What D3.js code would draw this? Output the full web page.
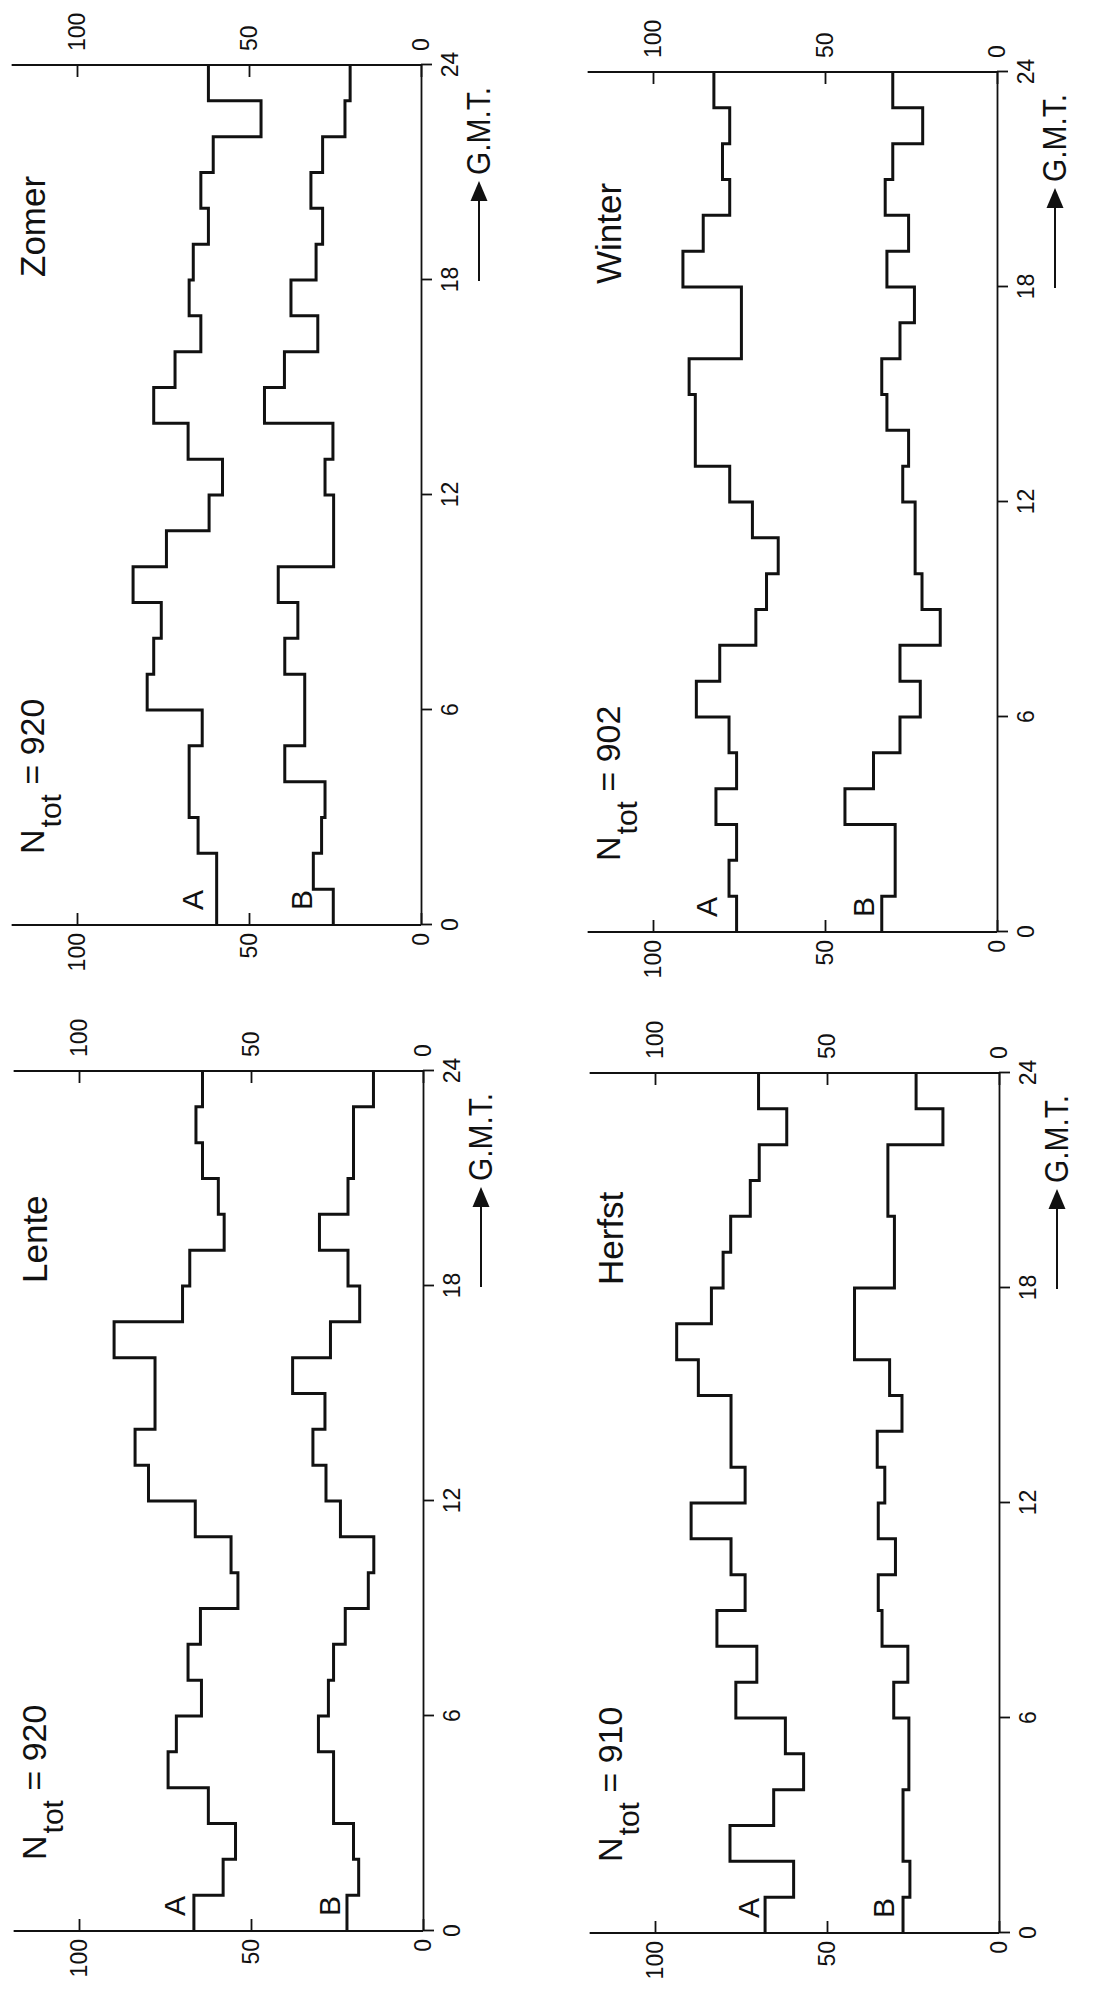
<!DOCTYPE html>
<html>
<head>
<meta charset="utf-8">
<script src="https://cdn.jsdelivr.net/npm/d3@7"></script>
<style>
  body { margin: 0; background: #fff; }
  svg text { font-family: "Liberation Sans", Arial, sans-serif; fill: #111; }
</style>
</head>
<body>
<div id="chart"></div>
<script>
// Data
const seasons = ["Zomer", "Winter", "Lente", "Herfst"];
const nTot = [920, 902, 920, 910];
const hourTicks = [0, 6, 12, 18, 24];
const valueTicks = [0, 50, 100];

// hourly values, hour 0-1 first
const zomerA = [59.4, 59.4, 64.8, 67.4, 67.4, 63.6, 79.6, 77.7, 75.5, 83.7, 74.0, 61.6, 57.7, 67.7, 77.7, 71.5, 64.0, 67.4, 66.2, 61.8, 64.0, 60.4, 46.5, 61.8];
const zomerB = [25.5, 31.3, 28.9, 27.9, 39.6, 33.8, 33.8, 39.6, 35.8, 41.5, 25.4, 25.4, 27.9, 25.6, 45.5, 39.7, 30.0, 37.8, 30.5, 28.6, 32.0, 28.6, 22.1, 20.6];
const winterA = [75.7, 77.9, 75.7, 81.7, 75.7, 77.9, 87.4, 80.6, 70.1, 67.0, 63.6, 71.1, 77.7, 87.7, 87.7, 89.5, 74.3, 74.3, 91.3, 85.4, 77.7, 79.8, 77.7, 82.3];
const winterB = [33.5, 29.6, 29.6, 44.2, 35.9, 28.2, 22.3, 28.2, 16.5, 21.8, 23.8, 23.8, 27.4, 25.7, 32.0, 33.5, 28.2, 24.0, 32.0, 25.7, 32.5, 30.3, 21.6, 30.3];
const lenteA = [66.6, 58.1, 54.5, 62.4, 74.1, 71.7, 64.4, 68.3, 64.7, 53.8, 55.8, 66.2, 79.8, 83.7, 77.9, 77.9, 89.8, 69.9, 67.8, 57.8, 59.5, 64.1, 66.0, 64.1];
const lenteB = [22.1, 18.7, 20.2, 26.0, 26.0, 30.4, 27.5, 26.0, 22.6, 15.9, 14.3, 24.0, 28.2, 32.0, 28.5, 37.9, 26.9, 18.4, 21.8, 30.1, 21.8, 20.2, 20.2, 14.4];
const herfstA = [68.0, 59.7, 78.2, 65.5, 56.8, 62.1, 76.5, 70.4, 82.0, 73.8, 77.9, 89.5, 73.8, 77.9, 77.9, 87.4, 93.7, 83.6, 80.2, 78.0, 72.3, 69.7, 61.7, 69.9];
const herfstB = [27.9, 25.9, 27.9, 27.9, 26.2, 26.2, 30.6, 26.5, 34.0, 35.1, 30.1, 35.1, 33.2, 35.4, 28.2, 31.8, 42.0, 42.0, 30.4, 30.4, 32.3, 32.3, 16.3, 24.1];

const seriesA = [zomerA, winterA, lenteA, herfstA];
const seriesB = [zomerB, winterB, lenteB, herfstB];

// Dimensions
const dimensions = {
  width: 1099,
  height: 1989,
  ctrWidth: 860,  // hour axis (drawn vertically after rotation)
  ctrHeight: 344, // value axis
};

// screen point of (hour 0, value 100) for each panel, plus where A / B sit
const panels = [
  { x: 77, y: 925, labelA: 63.4, labelB: 31.7 },
  { x: 653, y: 932, labelA: 81.4, labelB: 35.8 },
  { x: 79, y: 1931, labelA: 69.2, labelB: 24.1 },
  { x: 655, y: 1933, labelA: 69.8, labelB: 30.5 },
];

const svg = d3
  .select("#chart")
  .append("svg")
  .attr("width", dimensions.width)
  .attr("height", dimensions.height);

svg
  .append("rect")
  .attr("width", dimensions.width)
  .attr("height", dimensions.height)
  .attr("fill", "#fff");

// Scales
const xScale = d3.scaleLinear().domain([0, 24]).range([0, dimensions.ctrWidth]);
const yScale = d3.scaleLinear().domain([0, 100]).range([dimensions.ctrHeight, 0]);

const lineGenerator = d3
  .line()
  .x((d, i) => xScale(i))
  .y((d) => yScale(d))
  .curve(d3.curveStepAfter);

const ink = "#111";

function styleAxis(g) {
  g.attr("font-size", 23).attr("font-family", null);
  g.selectAll("line, path").attr("stroke", ink).attr("stroke-width", 1.8);
  g.selectAll("text").attr("fill", ink);
}

panels.forEach((p, k) => {
  // everything is drawn as a normal chart, then turned a quarter left
  const ctr = svg
    .append("g")
    .attr("transform", `translate(${p.x}, ${p.y}) rotate(-90)`);

  // value axes at hour 0 and hour 24
  ctr
    .append("g")
    .call(
      d3.axisLeft(yScale).tickValues(valueTicks)
        .tickSizeInner(-12).tickSizeOuter(0).tickPadding(8)
    )
    .call((g) => g.select(".domain").remove())
    .call(styleAxis);

  ctr
    .append("g")
    .attr("transform", `translate(${dimensions.ctrWidth}, 0)`)
    .call(
      d3.axisRight(yScale).tickValues(valueTicks)
        .tickSizeInner(-12).tickSizeOuter(0).tickPadding(14)
    )
    .call((g) => g.select(".domain").remove())
    .call(styleAxis);

  [0, dimensions.ctrWidth].forEach((x) => {
    ctr
      .append("line")
      .attr("x1", x)
      .attr("x2", x)
      .attr("y1", yScale(119))
      .attr("y2", yScale(0))
      .attr("stroke", ink)
      .attr("stroke-width", 1.8);
  });

  // hour axis
  ctr
    .append("g")
    .attr("transform", `translate(0, ${dimensions.ctrHeight})`)
    .call(
      d3.axisBottom(xScale).tickValues(hourTicks)
        .tickSize(11).tickSizeOuter(0).tickPadding(10)
    )
    .call(styleAxis);

  // step lines
  [seriesA[k], seriesB[k]].forEach((values) => {
    ctr
      .append("path")
      .datum(values.concat([values[values.length - 1]]))
      .attr("d", lineGenerator)
      .attr("fill", "none")
      .attr("stroke", ink)
      .attr("stroke-width", 3);
  });

  // series labels
  ctr.append("text").attr("x", 15).attr("y", yScale(p.labelA))
    .attr("font-size", 30).text("A");
  ctr.append("text").attr("x", 15).attr("y", yScale(p.labelB))
    .attr("font-size", 30).text("B");

  // N_tot
  const nText = ctr
    .append("text")
    .attr("x", 71)
    .attr("y", -33)
    .attr("font-size", 34);
  nText.append("tspan").text("N");
  nText.append("tspan").attr("dx", 2).attr("dy", 17).attr("font-size", 30).text("tot");
  nText.append("tspan").attr("dy", -17).text(` = ${nTot[k]}`);

  // season
  ctr
    .append("text")
    .attr("x", 648)
    .attr("y", -32)
    .attr("font-size", 35)
    .text(seasons[k]);

  // G.M.T. arrow
  const arrowY = dimensions.ctrHeight + 58;
  ctr
    .append("line")
    .attr("x1", 644)
    .attr("x2", 726)
    .attr("y1", arrowY)
    .attr("y2", arrowY)
    .attr("stroke", ink)
    .attr("stroke-width", 2);
  ctr
    .append("path")
    .attr("d", `M724,${arrowY - 8.5} L744,${arrowY} L724,${arrowY + 8.5} Z`)
    .attr("fill", ink);
  ctr
    .append("text")
    .attr("x", 750)
    .attr("y", dimensions.ctrHeight + 69)
    .attr("font-size", 33)
    .attr("textLength", 88)
    .attr("lengthAdjust", "spacingAndGlyphs")
    .text("G.M.T.");
});
</script>
</body>
</html>
